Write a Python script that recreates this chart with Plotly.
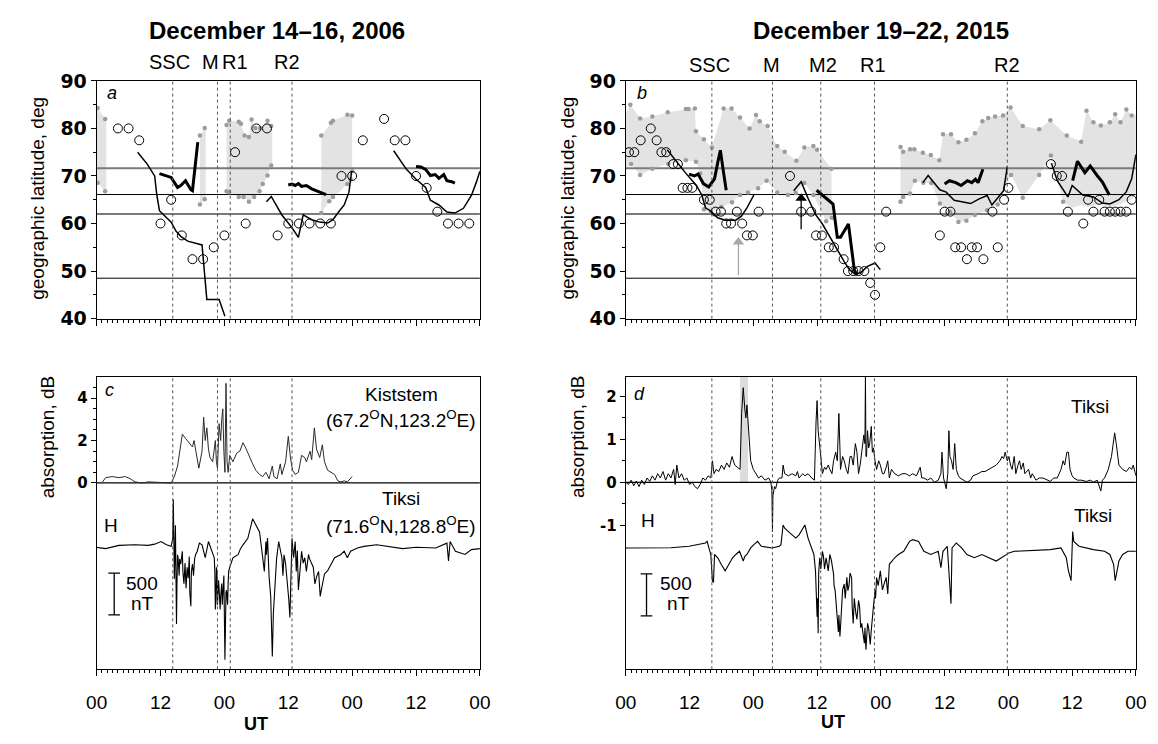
import plotly.graph_objects as go

W, H = 1158, 744

# ======================= DATA =======================
ref_lats = [71.6, 66.1, 62.0, 48.5]
ref_colors = ["#7a7a7a", "#000000", "#7a7a7a", "#000000"]
ref_widths = [2.0, 1.0, 2.0, 1.0]

# ---- Panel a : December 14-16, 2006 (hours from 00 UT Dec 14) ----
a_events_h = [14.3, 22.7, 25.1, 36.7]
a_events_lbl = ["SSC", "M", "R1", "R2"]
a_events_lbl_x = [161.7, 203.0, 228.0, 281.0]

a_oval1_top = [(0.0, 84.5), (0.2, 84.3), (1.6, 82.0), (1.8, 81.9)]
a_oval1_bot = [(0.0, 69.0), (0.2, 68.6), (1.6, 66.8), (1.8, 66.7)]
a_oval2_top = [(19.4, 78.5), (20.3, 80.1), (20.5, 80.1)]
a_oval2_bot = [(19.4, 64.0), (20.3, 65.1), (20.5, 65.2)]
a_oval3_top = [(24.4, 80.7), (24.9, 81.6), (26.7, 81.4), (27.1, 81.0), (27.8, 78.5), (28.6, 78.2),
               (29.1, 81.9), (29.8, 80.1), (30.7, 80.1), (32.1, 81.6), (32.8, 80.5), (33.0, 80.0)]
a_oval3_bot = [(24.4, 66.8), (24.9, 66.6), (26.7, 65.6), (27.6, 65.6), (28.6, 64.6), (29.6, 65.6),
               (30.6, 66.8), (31.2, 68.3), (32.1, 70.1), (32.8, 72.2), (33.0, 72.3)]
a_oval4_top = [(42.2, 78.5), (44.0, 81.2), (44.4, 81.6), (47.1, 82.9), (48.0, 82.7)]
a_oval4_bot = [(42.2, 62.2), (43.7, 64.7), (44.4, 65.6), (47.1, 68.3), (47.7, 69.3), (48.0, 71.0)]

a_circ_h = [4, 6, 8, 12, 14, 16, 18, 20, 22, 24, 26, 28, 30, 32, 34, 36, 38, 40, 42, 44, 46, 48,
            50, 54, 56, 58, 60, 62, 64, 66, 68, 70]
a_circ_lat = [80, 80, 77.5, 60, 65, 57.5, 52.5, 52.5, 55, 57.5, 75, 60, 80, 80, 57.5, 60, 60, 60, 60,
              60, 70, 70, 77.5, 82, 77.5, 77.5, 70, 67.5, 62.5, 60, 60, 60]

a_thin1 = [(7.7, 75.0), (9.5, 72.5), (10.9, 70.0), (11.3, 66.0), (11.8, 62.7), (13.0, 61.5), (14.0, 60.3),
           (14.9, 58.4), (15.8, 57.3), (17.1, 56.3), (19.8, 55.5), (20.7, 44.0), (23.0, 44.0), (24.1, 40.5)]
a_thin2 = [(31.9, 64.6), (32.8, 65.7), (34.8, 61.8), (36.7, 59.1), (37.9, 57.1), (38.8, 61.8), (40.4, 60.8),
           (41.9, 60.3), (43.4, 60.1), (44.4, 60.8), (45.3, 62.2), (46.5, 63.9), (47.4, 66.6), (47.9, 71.0)]
a_thin3 = [(55.8, 75.3), (58.2, 71.4), (60.0, 69.3), (61.8, 67.6), (62.7, 64.9), (64.3, 63.9), (65.8, 62.4),
           (67.3, 62.2), (68.9, 63.2), (70.4, 65.9), (71.3, 68.6), (72.0, 71.0)]
a_thick1 = [(11.8, 70.5), (12.8, 70.1), (14.0, 69.7), (15.2, 67.6), (15.8, 68.0), (16.7, 69.0), (17.7, 67.1),
            (18.0, 66.9), (18.6, 72.7), (19.0, 77.1)]
a_thick2 = [(36.0, 68.1), (36.7, 68.3), (37.3, 68.0), (37.9, 68.4), (38.5, 67.8), (39.4, 68.0), (40.4, 67.3),
            (41.6, 66.7), (42.8, 66.1), (43.1, 66.1)]
a_thick3 = [(60.0, 72.0), (60.9, 71.9), (61.8, 71.4), (62.7, 70.1), (63.6, 70.3), (64.3, 69.5), (65.2, 70.3),
            (65.8, 69.0), (66.7, 68.8), (67.3, 68.5)]

# ---- Panel b : December 19-22, 2015 (hours from 00 UT Dec 19) ----
b_events_h = [16.2, 27.6, 36.7, 46.8, 71.8]
b_events_lbl = ["SSC", "M", "M2", "R1", "R2"]
b_events_lbl_x = [712.0, 775.0, 828.0, 879.0, 1015.0]

b_oval1_top = [(0.0, 83.0), (0.85, 85.0), (2.7, 82.1), (5.0, 82.5), (7.9, 83.4), (11.3, 84.1), (11.8, 84.1),
               (13.0, 84.2), (13.2, 79.4), (14.7, 77.7), (16.2, 76.0), (18.4, 84.2), (19.9, 84.2), (21.5, 82.3),
               (23.3, 80.0), (24.5, 82.8), (25.2, 81.5), (26.7, 80.5), (28.5, 76.3), (29.9, 75.1), (32.1, 73.2),
               (33.6, 76.0), (35.3, 76.3), (36.0, 75.5), (38.7, 71.5)]
b_oval1_bot = [(0.0, 71.5), (1.0, 72.5), (2.7, 70.2), (5.0, 71.5), (8.0, 72.5), (11.3, 73.3), (13.2, 73.0),
               (14.0, 70.5), (14.7, 63.0), (16.0, 62.5), (18.0, 63.5), (20.0, 64.5), (21.5, 66.0), (23.0, 66.5),
               (24.9, 67.4), (26.5, 69.0), (28.5, 66.5), (30.5, 66.0), (32.0, 66.4), (33.6, 68.5), (35.3, 66.0),
               (37.7, 60.5), (38.8, 61.2)]
b_oval2_top = [(51.7, 76.1), (52.2, 75.1), (53.5, 75.6), (54.3, 75.6), (55.9, 74.9), (57.4, 74.4), (59.0, 73.3),
               (59.7, 78.8), (61.2, 78.8), (62.6, 77.1), (64.1, 77.6), (65.7, 79.0), (67.1, 81.5), (68.2, 82.2),
               (69.5, 82.5), (71.0, 82.7), (72.4, 84.4), (74.7, 80.5), (77.8, 79.8), (79.9, 81.7), (83.0, 78.5),
               (85.7, 77.2), (86.7, 83.7), (88.0, 81.3), (89.4, 80.6), (91.1, 81.3), (92.1, 83.0), (93.1, 81.3),
               (94.2, 84.0), (95.2, 82.7), (96.0, 83.0)]
b_oval2_bot = [(51.7, 64.6), (52.2, 65.6), (53.5, 66.3), (54.4, 69.0), (56.0, 68.6), (57.5, 68.5), (59.1, 64.2),
               (61.0, 62.5), (62.6, 60.3), (64.1, 60.6), (65.7, 61.8), (68.0, 62.8), (70.0, 64.0), (72.5, 70.2),
               (74.7, 65.4), (77.8, 70.2), (80.0, 74.3), (82.3, 64.6), (84.0, 63.3), (85.7, 63.9), (87.0, 63.5),
               (89.0, 64.0), (91.0, 63.5), (93.0, 64.0), (95.0, 65.0), (96.0, 66.0)]

b_circ_h = [0.6, 1.6, 2.8, 4.7, 5.8, 6.7, 7.6, 8.9, 9.8, 10.7, 11.6, 12.5, 14.7, 15.8, 16.9, 17.9, 18.9, 19.8,
            20.9, 21.9, 22.8, 23.9, 25.0, 30.9, 33.0, 34.9, 35.8, 36.9, 38.2, 39.2, 41.0, 41.8, 42.8, 43.8,
            44.9, 46.0, 46.9, 47.9, 49.0, 59.1, 60.0, 61.1, 62.0, 63.1, 64.2, 65.1, 66.1, 67.3, 69.0, 70.0,
            71.2, 72.0, 80.0, 81.1, 82.1, 83.2, 86.1, 87.0, 88.0, 89.1, 90.1, 91.1, 92.1, 93.1, 94.2, 95.2]
b_circ_lat = [75, 75, 77.5, 80, 77.5, 75, 75, 72.5, 72.5, 67.5, 67.5, 67.5, 65, 65, 62.5, 62.5, 60, 60,
              62.5, 60, 57.5, 57.5, 62.5, 70, 62.5, 62.5, 57.5, 57.5, 55, 55, 52.5, 50, 50, 50,
              50, 47.5, 45, 55, 62.5, 57.5, 62.5, 62.5, 55, 55, 52.5, 55, 55, 52.5, 62.5, 55,
              65, 67.5, 72.5, 70, 70, 62.5, 60, 65, 62.5, 65, 62.5, 62.5, 62.5, 62.5, 62.5, 65]

b_thin1 = [(7.8, 75.5), (9.2, 73.5), (11.2, 70.7), (13.3, 68.0), (14.3, 66.0), (15.0, 63.3), (16.0, 62.6),
           (17.3, 61.2), (18.7, 60.7), (20.7, 60.7), (21.8, 61.6), (22.8, 63.3), (24.1, 66.0)]
b_thick1 = [(11.9, 70.4), (12.9, 70.0), (13.6, 70.4), (14.6, 68.4), (15.6, 67.7), (16.7, 69.4), (17.3, 72.8),
            (17.8, 75.4), (18.4, 70.7), (18.9, 67.0)]
b_thin2 = [(31.6, 66.9), (33.0, 68.8), (34.3, 65.3), (35.7, 61.9), (37.0, 59.9), (38.4, 57.1), (39.8, 54.4),
           (41.1, 52.0), (42.1, 50.3), (43.2, 49.3), (44.2, 49.7), (45.5, 51.0), (46.9, 51.7), (47.9, 50.3)]
b_thick2 = [(35.9, 67.0), (37.7, 65.3), (39.0, 64.1), (39.8, 57.1), (40.4, 57.1), (41.9, 59.9), (43.0, 50.3),
            (43.5, 49.1)]
b_thin3 = [(55.9, 68.6), (56.9, 70.1), (59.1, 67.1), (60.3, 66.6), (61.8, 64.9), (63.4, 64.6), (64.9, 64.2),
           (66.5, 65.2), (68.0, 65.9), (68.9, 63.9), (69.8, 65.2), (71.1, 66.9), (71.8, 72.0)]
b_thick3 = [(60.0, 68.3), (60.9, 69.0), (62.1, 68.6), (63.1, 68.0), (64.3, 69.0), (65.1, 68.6), (65.8, 69.3),
            (66.3, 68.6), (67.2, 71.4)]
b_thin4 = [(80.1, 72.7), (81.2, 69.0), (83.2, 65.6), (84.0, 68.0), (86.0, 66.0), (88.0, 65.6), (89.7, 64.3),
           (91.1, 64.1), (92.8, 65.0), (94.2, 66.7), (95.2, 69.4), (96.0, 74.5)]
b_thick4 = [(84.1, 69.0), (85.0, 73.1), (86.4, 70.7), (87.4, 72.1), (88.7, 70.1), (89.7, 68.7), (91.0, 66.0)]

b_arrow_gray = (21.2, 49.2, 57.1)   # hour, tail lat, head lat
b_arrow_black = (33.0, 58.8, 66.3)

# ---- Panel c : Kiststem absorption (dB) and Tiksi H (nT) ----
c_abs = [(1.1, 0.05), (1.7, 0.25), (2.9, 0.3), (4.2, 0.25), (5.4, 0.3), (6.3, 0.2), (7.2, 0.05), (8.5, 0.0),
         (9.7, 0.05), (10.9, 0.05), (12.1, 0.02), (14.0, 0.0), (14.6, 0.3), (15.2, 0.8), (15.5, 1.3), (15.8, 2.0),
         (16.1, 2.3), (16.7, 2.1), (17.4, 1.9), (18.0, 1.7), (18.3, 2.0), (18.9, 1.0), (19.2, 0.7), (19.8, 1.5),
         (20.1, 3.1), (20.4, 2.0), (20.7, 2.6), (21.0, 1.6), (21.3, 1.2), (21.8, 1.0), (22.3, 2.0), (22.5, 1.0),
         (22.7, 0.7), (23.0, 2.8), (23.3, 2.0), (23.5, 3.0), (23.7, 3.5), (23.9, 1.5), (24.1, 0.5), (24.3, 4.7),
         (24.5, 1.0), (24.7, 0.5), (25.0, 1.3), (25.6, 1.0), (26.3, 1.4), (26.9, 1.5), (27.5, 1.9), (28.1, 1.6),
         (28.7, 1.2), (29.3, 0.9), (29.9, 0.6), (30.6, 0.4), (31.2, 0.3), (31.8, 0.5), (32.4, 0.2), (33.0, 0.8),
         (33.3, 0.3), (33.9, 0.2), (34.5, 0.9), (34.8, 0.4), (35.5, 1.0), (36.0, 2.2), (36.4, 1.2), (36.8, 0.6),
         (37.3, 0.4), (37.9, 0.5), (38.5, 1.3), (39.1, 1.2), (39.4, 1.0), (40.1, 1.5), (40.4, 1.1), (40.9, 2.6),
         (41.3, 1.6), (41.9, 1.2), (42.4, 1.8), (42.8, 1.0), (43.4, 0.6), (44.0, 0.5), (44.7, 0.4), (45.3, 0.1),
         (45.9, 0.05), (46.5, 0.1), (47.1, 0.05), (48.0, 0.3)]
c_H = [(0.0, -12), (1.7, -27), (4.2, 12), (7.2, 19), (9.7, 12), (10.9, 27), (12.1, 58), (13.1, 19), (14.0, 0),
       (14.3, 97), (14.4, 562), (14.6, -388), (14.8, 252), (15.0, -930), (15.1, -400), (15.2, -100),
       (15.3, -136), (15.5, -350), (15.6, -150), (15.8, -213), (16.1, -60), (16.2, -300), (16.4, -446),
       (16.6, -200), (16.8, -500), (17.0, -250), (17.1, -291), (17.2, -380), (17.4, -120), (17.5, -550),
       (17.7, -717), (17.8, -300), (18.0, -213), (18.2, -350), (18.4, -150), (18.6, -97), (18.9, -58), (19.3, 40),
       (19.8, 19), (20.4, -136), (21.0, 58), (21.7, -58), (22.1, -136), (22.2, -300), (22.3, -756), (22.4, -650),
       (22.5, -250), (22.6, -300), (22.7, -700), (22.9, -407), (23.0, -500), (23.2, -756), (23.3, -600),
       (23.5, -446), (23.6, -700), (23.8, -523), (23.9, -350), (24.1, -1357), (24.2, -800), (24.3, -550),
       (24.4, -523), (24.6, -700), (24.7, -446), (24.8, -300), (25.0, -252), (25.6, -136), (26.6, -97),
       (27.0, -30), (27.5, 19), (28.4, 97), (29.3, 330), (29.9, 252), (30.6, 174), (31.2, -136), (31.5, -300),
       (31.8, 58), (31.9, -100), (32.1, 100), (32.4, -368), (32.7, -600), (33.0, -1318), (33.2, -800),
       (33.6, -446), (33.8, -150), (34.2, 58), (34.5, -50), (34.8, -136), (35.0, -350), (35.2, -100),
       (35.5, -213), (35.8, -400), (36.1, -640), (36.3, -853), (36.5, -200), (36.7, 97), (37.0, -136),
       (37.3, 58), (37.5, -300), (37.7, -50), (37.9, -523), (38.1, -350), (38.5, -58), (38.8, -200),
       (39.1, -136), (39.4, -300), (39.8, -97), (40.0, -150), (40.4, -213), (40.7, -250), (41.0, -450),
       (41.3, -368), (41.7, -300), (42.0, -600), (42.2, -523), (42.5, -400), (42.8, -330), (43.4, -291),
       (44.0, -213), (44.7, -136), (45.9, -97), (46.5, -58), (47.1, -136), (47.7, -58), (49.0, -19), (50.2, 0),
       (52.6, 19), (55.0, 0), (57.5, -27), (60.0, -10), (63.7, -19), (65.8, 39), (66.1, -174), (66.4, 58),
       (67.4, -58), (69.2, -97), (70.4, -39), (72.0, -27)]

# ---- Panel d : Tiksi absorption (dB) and Tiksi H (nT) ----
d_shade_h = [21.5, 23.0]
d_abs = [(0.0, 0.0), (0.5, -0.05), (1.0, 0.05), (1.5, -0.08), (2.0, 0.03), (2.5, -0.1), (3.0, 0.05), (3.5, -0.05),
         (4.0, 0.1), (4.5, 0.02), (5.0, 0.15), (5.5, 0.05), (6.0, 0.2), (6.5, 0.1), (7.0, 0.25), (7.5, 0.05),
         (8.0, 0.2), (8.5, 0.1), (9.0, 0.3), (9.3, -0.05), (9.6, 0.4), (10.0, 0.1), (10.5, 0.2), (11.0, 0.05),
         (11.5, 0.1), (12.0, -0.05), (12.5, 0.0), (13.0, -0.1), (13.5, -0.15), (14.0, -0.05), (14.5, 0.1),
         (15.0, 0.05), (15.5, 0.15), (16.0, 0.1), (16.3, 0.5), (16.6, 0.2), (17.0, 0.3), (17.5, 0.25), (18.0, 0.4),
         (18.5, 0.3), (19.0, 0.45), (19.5, 0.35), (20.0, 0.6), (20.5, 0.4), (21.0, 0.35), (21.5, 0.3), (21.8, 1.6),
         (22.1, 2.2), (22.4, 1.7), (22.6, 1.5), (22.8, 1.8), (23.1, 1.1), (23.5, 0.5), (24.0, 0.3), (24.5, 0.2),
         (25.0, 0.1), (25.5, 0.15), (26.2, 0.05), (26.9, 0.1), (27.3, 0.0), (27.5, -0.2), (27.6, -1.15),
         (27.7, -0.3), (28.0, -0.1), (28.2, -0.15), (28.6, 0.05), (28.9, 0.1), (29.4, 0.1), (29.6, 0.4),
         (29.9, 0.2), (30.6, 0.15), (31.3, 0.2), (32.0, 0.15), (32.3, 0.25), (32.6, 0.1), (33.3, 0.2),
         (33.7, 0.15), (34.3, 0.2), (35.0, 0.1), (35.5, 0.05), (35.8, 1.4), (36.0, 1.9), (36.2, 1.2), (36.4, 1.0),
         (36.7, 0.6), (37.0, 0.2), (37.4, 0.35), (37.7, 0.3), (38.1, 0.4), (38.4, 0.3), (38.8, 0.2), (39.1, 0.5),
         (39.5, 0.7), (39.8, 0.5), (40.1, 1.6), (40.3, 0.8), (40.4, 0.3), (40.8, 0.6), (41.1, 0.5), (41.5, 0.3),
         (41.8, 0.2), (42.2, 0.6), (42.5, 0.6), (42.8, 0.4), (43.2, 0.9), (43.5, 0.7), (43.8, 0.2), (44.1, 0.4),
         (44.5, 0.8), (44.8, 1.1), (45.0, 0.9), (45.1, 2.45), (45.2, 0.6), (45.3, 0.6), (45.5, 1.2), (45.7, 0.8),
         (45.9, 0.9), (46.2, 1.3), (46.4, 0.7), (46.6, 0.8), (46.9, 0.5), (47.2, 0.3), (47.6, 0.5), (47.9, 0.4),
         (48.3, 0.2), (48.6, 0.2), (49.0, 0.35), (49.3, 0.5), (49.6, 0.1), (50.0, 0.3), (50.6, 0.2), (51.3, 0.15),
         (52.0, 0.2), (52.7, 0.2), (53.4, 0.15), (54.0, 0.2), (54.7, 0.15), (55.4, 0.35), (55.7, 0.1), (56.1, 0.1),
         (56.8, 0.05), (57.4, 0.1), (58.1, 0.0), (58.8, 0.05), (59.3, 0.2), (59.5, 0.7), (59.8, 0.1), (60.3, -0.15),
         (60.6, 0.2), (60.8, 1.2), (61.0, 0.6), (61.3, 0.5), (61.6, 0.3), (61.9, 0.9), (62.2, 0.3), (62.6, 0.15),
         (62.9, 0.1), (63.5, 0.05), (64.2, 0.0), (64.9, 0.05), (65.3, 0.15), (66.3, 0.2), (67.0, 0.25), (67.6, 0.25),
         (68.3, 0.3), (69.0, 0.35), (69.7, 0.4), (70.4, 0.5), (70.8, 0.6), (71.1, 0.55), (71.4, 0.7), (71.8, 0.5),
         (72.1, 0.6), (72.4, 0.4), (72.7, 0.3), (73.1, 0.6), (73.4, 0.2), (73.8, 0.4), (74.1, 0.5), (74.4, 0.3),
         (74.8, 0.45), (75.1, 0.2), (75.5, 0.25), (75.8, 0.3), (76.2, 0.1), (76.5, 0.2), (77.2, 0.05), (77.8, 0.1),
         (78.5, 0.1), (79.2, 0.05), (79.9, 0.02), (80.5, 0.1), (81.2, 0.1), (81.9, 0.3), (82.3, 0.5), (82.6, 0.4),
         (83.0, 0.7), (83.3, 0.7), (83.6, 0.3), (84.0, 0.15), (84.3, 0.1), (85.0, 0.05), (85.7, 0.05), (86.7, 0.02),
         (87.4, 0.05), (88.0, 0.0), (88.7, 0.05), (89.4, -0.2), (89.7, 0.05), (90.1, 0.1), (90.8, 0.3), (91.4, 0.6),
         (91.8, 0.9), (92.0, 1.15), (92.3, 0.9), (92.5, 0.7), (92.8, 0.4), (93.5, 0.3), (94.2, 0.25), (94.8, 0.35),
         (95.2, 0.3), (95.5, 0.4), (96.0, 0.15)]
d_H = [(0.0, 0), (5.1, 0), (8.5, 3), (11.9, 20), (15.0, 59), (15.3, 78), (16.0, -78), (16.3, -390), (16.5, -410),
       (16.7, -78), (17.3, -117), (18.0, -200), (18.7, -273), (19.4, -195), (20.1, -117), (20.7, -78),
       (21.4, -40), (22.1, -156), (22.4, -100), (22.8, -78), (23.5, 0), (24.1, 39), (24.8, 78), (25.5, 20),
       (26.9, 8), (27.5, 0), (28.9, 20), (29.2, 39), (29.6, 273), (29.9, 234), (30.6, 195), (31.3, 156),
       (32.0, 117), (32.6, 156), (33.7, 273), (34.3, 117), (35.0, 0), (35.4, -78), (35.7, -273), (36.0, -820),
       (36.1, -600), (36.2, -1015), (36.3, -300), (36.5, -117), (36.7, -250), (37.0, -40), (37.2, -100),
       (37.4, -250), (37.7, -117), (38.1, -273), (38.4, -78), (38.7, -150), (39.1, -312), (39.2, -450),
       (39.4, -508), (39.6, -700), (39.9, -898), (40.0, -1000), (40.1, -800), (40.3, -1055), (40.4, -950),
       (40.6, -703), (40.8, -500), (41.1, -430), (41.3, -600), (41.6, -350), (41.8, -508), (42.0, -450),
       (42.2, -300), (42.5, -352), (42.6, -700), (42.8, -898), (43.0, -600), (43.3, -781), (43.5, -850),
       (43.8, -625), (44.0, -700), (44.2, -950), (44.4, -898), (44.6, -1000), (44.9, -1133), (45.0, -950),
       (45.2, -1211), (45.3, -1100), (45.5, -898), (45.7, -950), (45.9, -1055), (46.0, -1150), (46.2, -976),
       (46.4, -800), (46.6, -703), (46.9, -508), (47.0, -600), (47.2, -352), (47.5, -450), (47.9, -273),
       (48.0, -350), (48.3, -500), (48.6, -430), (49.0, -350), (49.3, -547), (49.5, -350), (49.6, -195),
       (50.6, -117), (51.3, -78), (52.3, -40), (53.4, 78), (54.0, 98), (55.1, 78),
       (56.1, -40), (57.4, -78), (58.8, -40), (59.3, -234), (59.7, -40), (60.5, 20), (61.2, -664), (61.4, 0),
       (62.2, 59), (63.2, 0), (64.2, -78), (65.6, -117), (67.0, -78), (68.3, -117), (69.7, -156), (70.7, -117),
       (72.1, -59), (73.1, -40), (76.5, -31), (79.9, -20), (81.9, 0), (82.9, -117), (83.3, -273), (83.8, -390),
       (84.1, 195), (84.3, 78), (85.3, 20), (88.0, -20), (90.1, -40), (91.1, -78), (91.8, -195), (92.1, -390),
       (92.8, -156), (93.5, -78), (94.5, -40), (96.0, -40)]

scale_nT = 500
left_ticks_h = [0, 12, 24, 36, 48, 60, 72]
left_ticks_lbl = ["00", "12", "00", "12", "00", "12", "00"]
right_ticks_h = [0, 12, 24, 36, 48, 60, 72, 84, 96]
right_ticks_lbl = ["00", "12", "00", "12", "00", "12", "00", "12", "00"]

# ======================= FIGURE =======================
SANS = "Liberation Sans, Arial, sans-serif"
BOLDT = "DejaVu Sans, Verdana, sans-serif"


def xy(pairs):
    return [p[0] for p in pairs], [p[1] for p in pairs]


def px(x):
    return x / W


def py(y):
    return 1 - y / H


fig = go.Figure()


def add_oval(top, bot, xa, ya):
    th, tl = xy(top)
    bh, bl = xy(bot)
    fig.add_trace(go.Scatter(x=th + bh[::-1], y=tl + bl[::-1], fill="toself", fillcolor="#e3e3e3",
                             mode="lines", line=dict(width=0), hoverinfo="skip", xaxis=xa, yaxis=ya))


def add_oval_dots(top, bot, xa, ya):
    th, tl = xy(top)
    bh, bl = xy(bot)
    fig.add_trace(go.Scatter(x=th + bh, y=tl + bl, mode="markers",
                             marker=dict(size=4.5, color="#9c9c9c"), xaxis=xa, yaxis=ya))


def add_line(pairs, xa, ya, width, color="black"):
    hx, vy = xy(pairs)
    fig.add_trace(go.Scatter(x=hx, y=vy, mode="lines", line=dict(color=color, width=width),
                             xaxis=xa, yaxis=ya))


# ---- panel a ----
for top, bot in [(a_oval1_top, a_oval1_bot), (a_oval2_top, a_oval2_bot),
                 (a_oval3_top, a_oval3_bot), (a_oval4_top, a_oval4_bot)]:
    add_oval(top, bot, "x", "y")
for lat, c, w in zip(ref_lats, ref_colors, ref_widths):
    add_line([(0, lat), (72, lat)], "x", "y", w, c)
for top, bot in [(a_oval1_top[1:3], a_oval1_bot[1:3]), (a_oval2_top[:2], a_oval2_bot[:2]),
                 (a_oval3_top[:11], a_oval3_bot[:10]), (a_oval4_top, a_oval4_bot)]:
    add_oval_dots(top, bot, "x", "y")
fig.add_trace(go.Scatter(x=a_circ_h, y=a_circ_lat, mode="markers",
                         marker=dict(symbol="circle-open", size=9, color="black", line=dict(width=1)),
                         xaxis="x", yaxis="y"))
for seg in [a_thin1, a_thin2, a_thin3]:
    add_line(seg, "x", "y", 1.5)
for seg in [a_thick1, a_thick2, a_thick3]:
    add_line(seg, "x", "y", 3)

# ---- panel b ----
for top, bot in [(b_oval1_top, b_oval1_bot), (b_oval2_top, b_oval2_bot)]:
    add_oval(top, bot, "x2", "y2")
for lat, c, w in zip(ref_lats, ref_colors, ref_widths):
    add_line([(0, lat), (96, lat)], "x2", "y2", w, c)
add_oval_dots(b_oval1_top[1:], b_oval1_bot[1:], "x2", "y2")
add_oval_dots(b_oval2_top[:-1], b_oval2_bot[:18], "x2", "y2")
fig.add_trace(go.Scatter(x=b_circ_h, y=b_circ_lat, mode="markers",
                         marker=dict(symbol="circle-open", size=9, color="black", line=dict(width=1)),
                         xaxis="x2", yaxis="y2"))
for seg in [b_thin1, b_thin2, b_thin3, b_thin4]:
    add_line(seg, "x2", "y2", 1.5)
for seg in [b_thick1, b_thick2, b_thick3, b_thick4]:
    add_line(seg, "x2", "y2", 3)

# arrows (shaft + head)
for (hh, tail, head), col in [(b_arrow_gray, "#a8a8a8"), (b_arrow_black, "black")]:
    fig.add_trace(go.Scatter(x=[hh, hh], y=[tail, head - 1.2], mode="lines",
                             line=dict(color=col, width=1.3), xaxis="x2", yaxis="y2"))
    fig.add_trace(go.Scatter(x=[hh], y=[head - 1.0], mode="markers",
                             marker=dict(symbol="triangle-up", size=10, color=col),
                             xaxis="x2", yaxis="y2"))

# ---- panel c ----
add_line([(0, 0), (72, 0)], "x3", "y3", 1.2)
add_line(c_abs, "x3", "y3", 1, "#2a2a2a")
add_line(c_H, "x3", "y5", 1.1)

# ---- panel d ----
fig.add_trace(go.Scatter(x=[d_shade_h[0], d_shade_h[1], d_shade_h[1], d_shade_h[0]], y=[0, 0, 2.46, 2.46],
                         fill="toself", fillcolor="#dcdcdc", mode="lines", line=dict(width=0),
                         xaxis="x4", yaxis="y4"))
add_line([(0, 0), (96, 0)], "x4", "y4", 1.2)
add_line(d_abs, "x4", "y4", 1)
add_line(d_H, "x4", "y6", 1.1)

# ---- vertical event lines ----
shapes = []
for h in a_events_h:
    for xr, yr in [("x", "y domain"), ("x3", "y3 domain")]:
        shapes.append(dict(type="line", xref=xr, yref=yr, x0=h, x1=h, y0=0, y1=1,
                           line=dict(color="#555", width=1, dash="dot")))
for h in b_events_h:
    for xr, yr in [("x2", "y2 domain"), ("x4", "y4 domain")]:
        shapes.append(dict(type="line", xref=xr, yref=yr, x0=h, x1=h, y0=0, y1=1,
                           line=dict(color="#555", width=1, dash="dot")))

# ---- 500 nT scale bars ----
for xr, yr, hx, ytop in [("x3", "y5", 3.3, -321), ("x4", "y6", 3.9, -308)]:
    ybot = ytop - scale_nT
    shapes.append(dict(type="line", xref=xr, yref=yr, x0=hx, x1=hx, y0=ytop, y1=ybot,
                       line=dict(color="black", width=1.3)))
    for yy in (ytop, ybot):
        shapes.append(dict(type="line", xref=xr, yref=yr, x0=hx - 1.1, x1=hx + 1.1, y0=yy, y1=yy,
                           line=dict(color="black", width=1.3)))

# ---- annotations ----
ann = []


def text(x, y, t, size=19, bold=False, italic=False, angle=0, family=SANS):
    ann.append(dict(xref="paper", yref="paper", x=px(x), y=py(y), text=t, showarrow=False,
                    textangle=angle, xanchor="center", yanchor="middle",
                    font=dict(family=family, size=size, color="black",
                              weight="bold" if bold else "normal",
                              style="italic" if italic else "normal")))


text(271, 20, "December 14–16, 2006", size=24, bold=True)
text(887, 20, "December 19–22, 2015", size=24, bold=True)
for lbl, xx in zip(a_events_lbl, a_events_lbl_x):
    text(xx, 53, lbl, size=20)
for lbl, xx in zip(b_events_lbl, b_events_lbl_x):
    text(xx, 56, lbl, size=20)
text(27, 193, "geographic latitude, deg", size=19, angle=-90)
text(567, 193, "geographic latitude, deg", size=19, angle=-90)
text(37, 439, "absorption, dB", size=19, angle=-90)
text(577, 439, "absorption, dB", size=19, angle=-90)
text(250, 735, "UT", size=18, bold=True)
text(838, 733, "UT", size=18, bold=True)
text(103, 85, "a", size=18, italic=True)
text(643, 85, "b", size=18, italic=True)
text(100, 391, "c", size=18, italic=True)
text(641, 395, "d", size=18, italic=True)
text(398, 395, "Kiststem", size=19)
text(398, 420, "(67.2<sup>O</sup>N,123.2<sup>O</sup>E)", size=19)
text(398, 502, "Tiksi", size=19)
text(398, 530, "(71.6<sup>O</sup>N,128.8<sup>O</sup>E)", size=19)
text(102, 530, "H", size=19)
text(134, 590, "500", size=19)
text(134, 611, "nT", size=19)
text(1100, 408, "Tiksi", size=19)
text(1103, 520, "Tiksi", size=19)
text(649, 525, "H", size=19)
text(678, 590, "500", size=19)
text(680, 611, "nT", size=19)

# ---- axes ----
LX = [87.3 / W, 478 / W]
RX = [626.7 / W, 1146.7 / W]
TOPY = [1 - 317 / H, 1 - 72 / H]
BOTY = [1 - 678.3 / H, 1 - 376.7 / H]

common_x = dict(showline=True, linecolor="black", linewidth=1, mirror=True, ticks="outside",
                ticklen=6, tickcolor="black", showgrid=False, zeroline=False,
                minor=dict(tick0=0, dtick=1, ticks="outside", ticklen=3, tickcolor="black"))
lat_y = dict(range=[40, 90], showline=True, linecolor="black", linewidth=1, mirror=True, ticks="outside",
             ticklen=5, tickcolor="black", showgrid=False, zeroline=False,
             tickvals=[40, 50, 60, 70, 80, 90],
             minor=dict(tickvals=[45, 55, 65, 75, 85], ticks="outside", ticklen=3, tickcolor="black"),
             tickfont=dict(family=BOLDT, size=19, color="black", weight="bold"))
xfont = dict(family=SANS, size=19, color="black")

fig.update_layout(
    width=W, height=H, autosize=False, margin=dict(l=0, r=0, t=0, b=0),
    paper_bgcolor="white", plot_bgcolor="white", showlegend=False,
    xaxis=dict(domain=LX, range=[0, 72], anchor="y", tickvals=left_ticks_h, showticklabels=False, **common_x),
    xaxis2=dict(domain=RX, range=[0, 96], anchor="y2", tickvals=right_ticks_h, showticklabels=False, **common_x),
    xaxis3=dict(domain=LX, range=[0, 72], anchor="y3", tickvals=left_ticks_h, ticktext=left_ticks_lbl,
                tickfont=xfont, ticklabelstandoff=10, **common_x),
    xaxis4=dict(domain=RX, range=[0, 96], anchor="y4", tickvals=right_ticks_h, ticktext=right_ticks_lbl,
                tickfont=xfont, ticklabelstandoff=10, **common_x),
    yaxis=dict(domain=TOPY, anchor="x", **lat_y),
    yaxis2=dict(domain=TOPY, anchor="x2", **lat_y),
    yaxis3=dict(domain=BOTY, anchor="x3", range=[-8.79, 5.02], showline=True, linecolor="black",
                linewidth=1, mirror=True, ticks="outside", ticklen=5, tickcolor="black", showgrid=False,
                zeroline=False, tickvals=[0, 2, 4], ticktext=["0", "2", "4"],
                minor=dict(tickvals=[0.5, 1, 1.5, 2.5, 3, 3.5, 4.5], ticks="outside", ticklen=3,
                           tickcolor="black"),
                tickfont=dict(family=BOLDT, size=15, color="black", weight="bold")),
    yaxis4=dict(domain=BOTY, anchor="x4", range=[-4.35, 2.46], showline=True, linecolor="black",
                linewidth=1, mirror=True, ticks="outside", ticklen=5, tickcolor="black", showgrid=False,
                zeroline=False, tickvals=[-1, 0, 1, 2], ticktext=["-1", "0", "1", "2"],
                minor=dict(tickvals=[-0.5, 0.5, 1.5], ticks="outside", ticklen=3, tickcolor="black"),
                tickfont=dict(family=BOLDT, size=15, color="black", weight="bold")),
    yaxis5=dict(domain=BOTY, anchor="x3", overlaying="y3", range=[-1472, 2035], visible=False),
    yaxis6=dict(domain=BOTY, anchor="x4", overlaying="y4", range=[-1444, 2040], visible=False),
    shapes=shapes, annotations=ann,
)

fig.write_html("out.html")
